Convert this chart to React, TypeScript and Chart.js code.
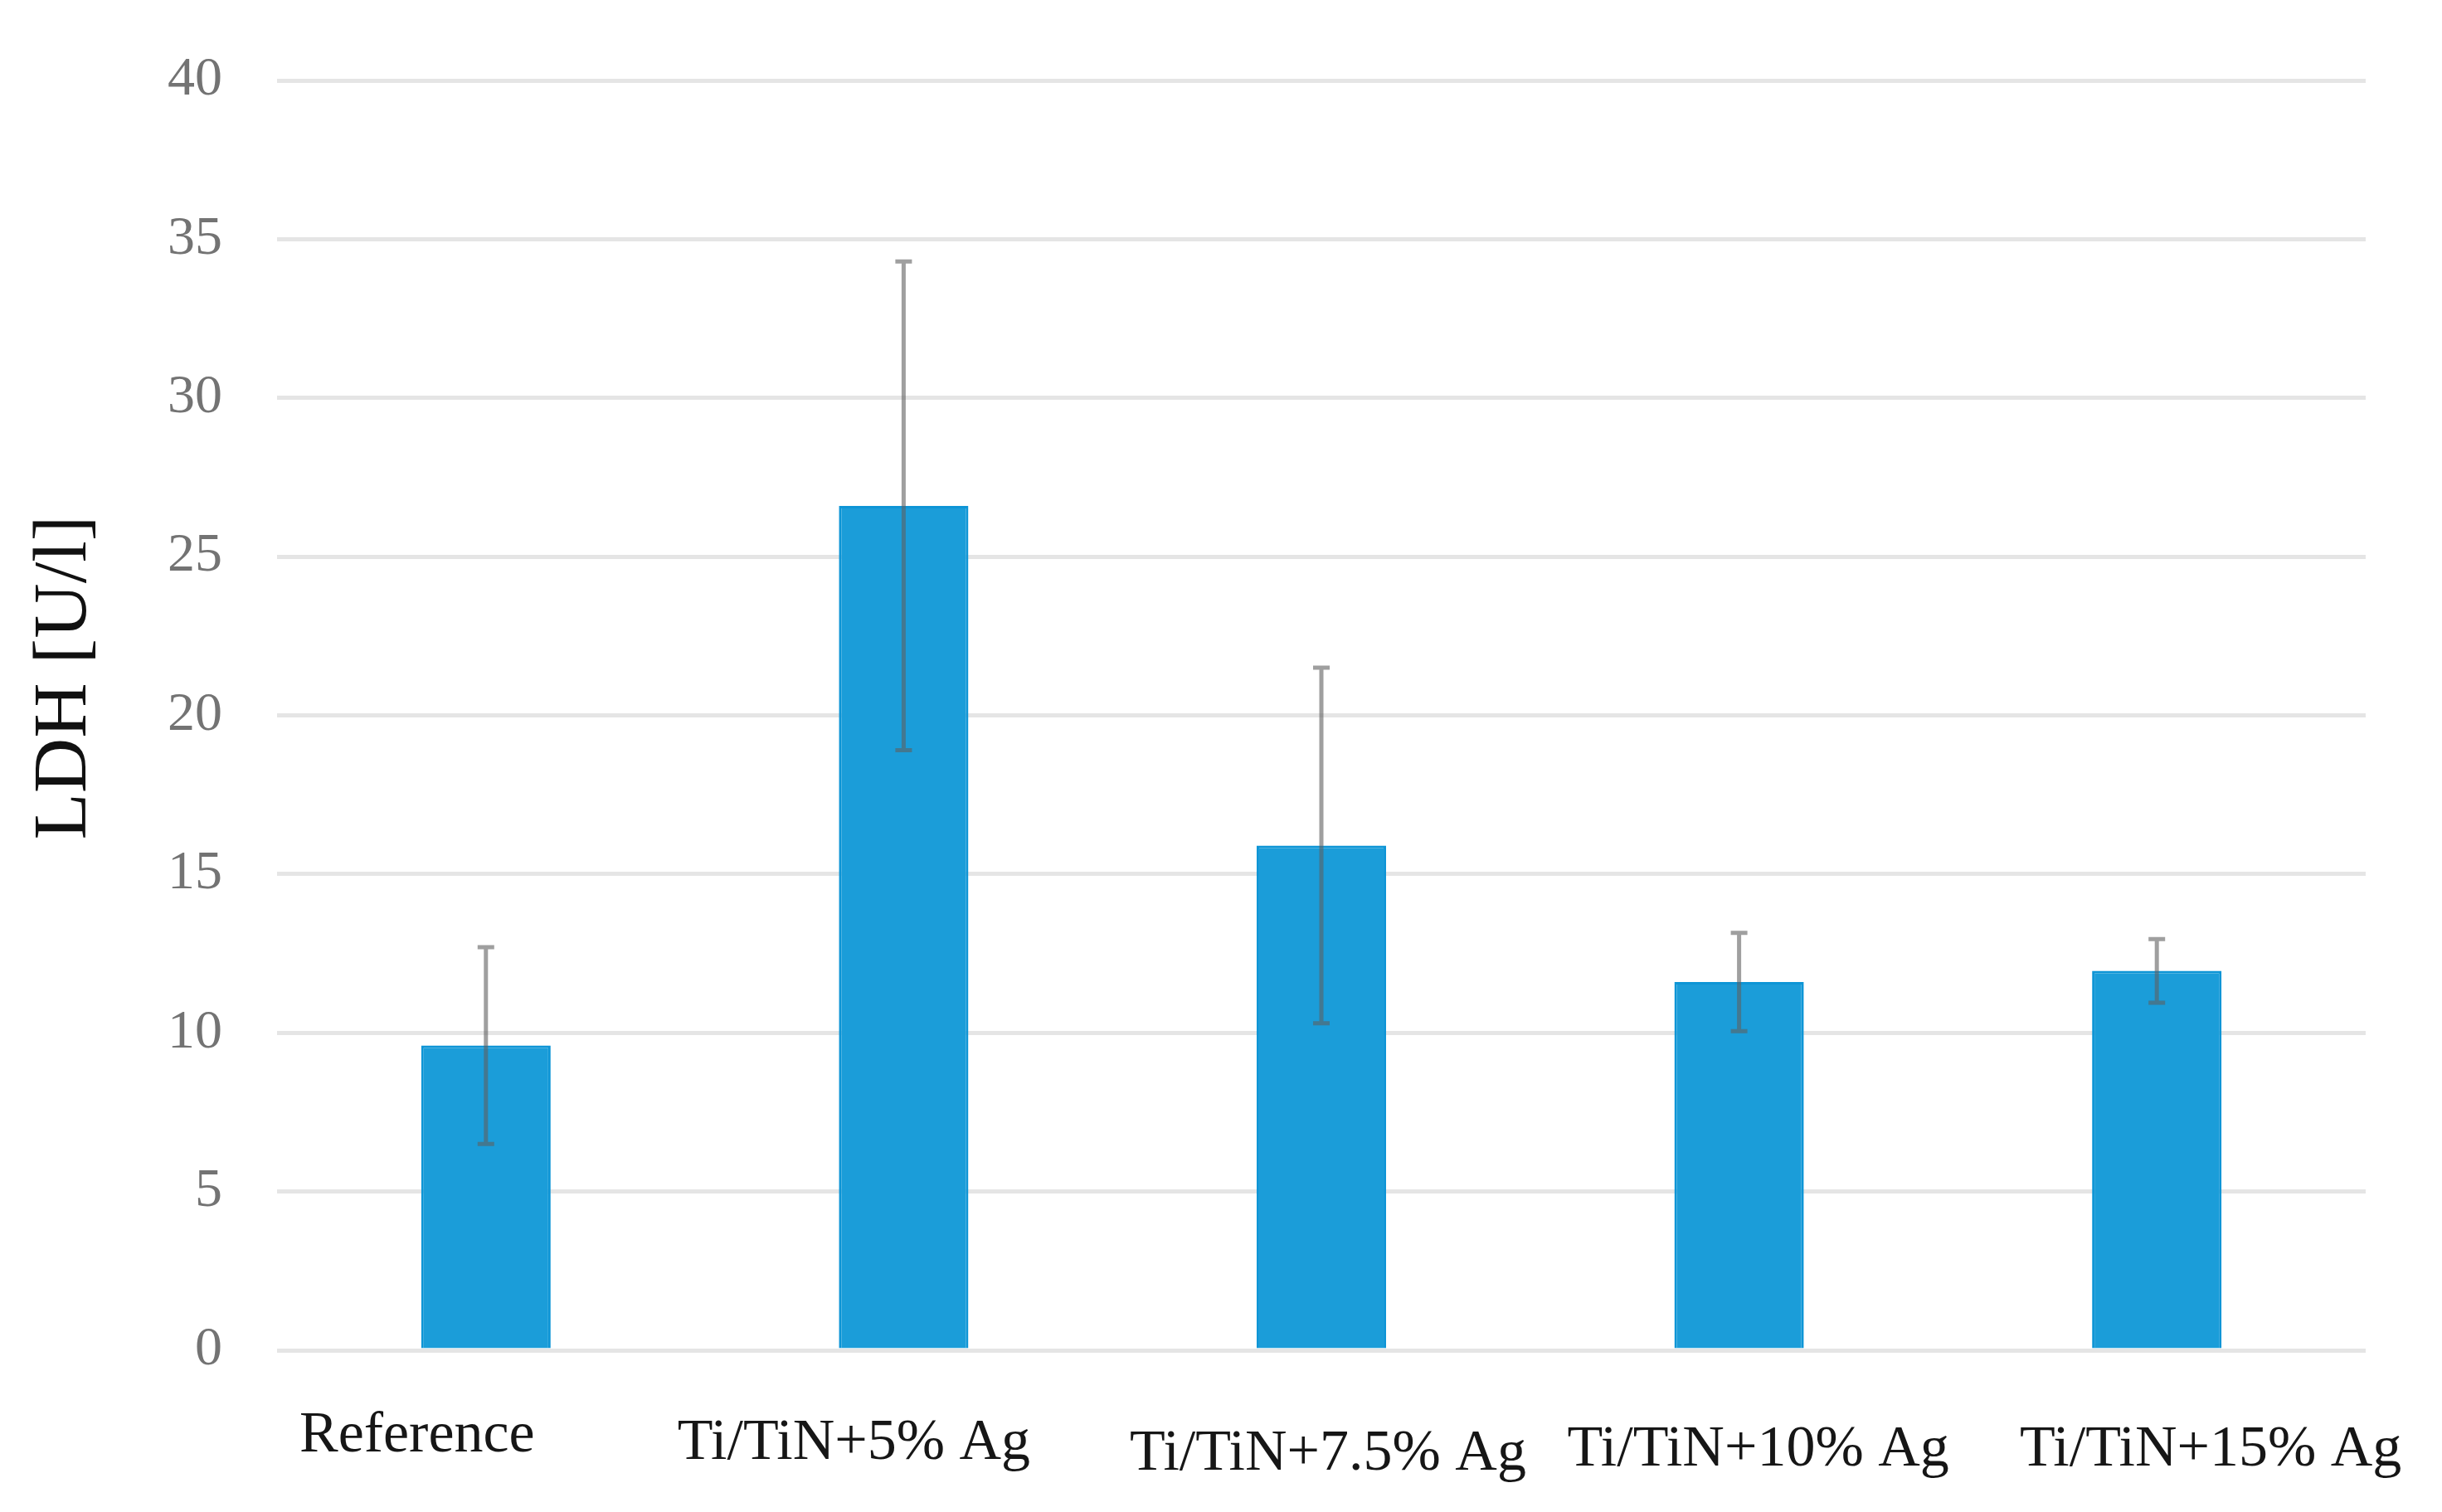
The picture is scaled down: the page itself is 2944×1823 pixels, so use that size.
import React, { useEffect, useRef } from "react";
import { Chart, registerables } from "chart.js";

Chart.register(...registerables);

const categories = ["Reference", "Ti/TiN+5% Ag", "Ti/TiN+7.5% Ag", "Ti/TiN+10% Ag", "Ti/TiN+15% Ag"];
const ldhValues = [9.6, 26.6, 15.9, 11.6, 11.95];
const ldhErrors = [3.1, 7.7, 5.6, 1.55, 1.0];
const yTicks = [0, 5, 10, 15, 20, 25, 30, 35, 40];
const yTitle = "LDH [U/l]";

// label placement tweaks (style, not data): horizontal shift and baseline
const labelDx = [-83, -60, 8, 23, 65];
const labelBaseline = [1750, 1759, 1772, 1767, 1767];

const W = 2944;
const H = 1823;

const errorBarPlugin = {
  id: "errorBars",
  afterDatasetsDraw(chart: any) {
    const meta = chart.getDatasetMeta(0);
    const yScale = chart.scales.y;
    const ctx = chart.ctx;
    ctx.save();
    ctx.strokeStyle = "rgba(95,95,95,0.6)";
    ctx.lineWidth = 5;
    meta.data.forEach((bar: any, i: number) => {
      const v = ldhValues[i];
      const e = ldhErrors[i];
      const x = bar.x;
      const yt = yScale.getPixelForValue(v + e);
      const yb = yScale.getPixelForValue(v - e);
      ctx.beginPath();
      ctx.moveTo(x, yt);
      ctx.lineTo(x, yb);
      ctx.moveTo(x - 10, yt);
      ctx.lineTo(x + 10, yt);
      ctx.moveTo(x - 10, yb);
      ctx.lineTo(x + 10, yb);
      ctx.stroke();
    });
    ctx.restore();
  },
};

const textPlugin = {
  id: "customText",
  afterDraw(chart: any) {
    const ctx = chart.ctx;
    const xScale = chart.scales.x;
    ctx.save();
    ctx.fillStyle = "#161616";
    ctx.font = "70px 'Liberation Serif'";
    ctx.textAlign = "center";
    ctx.textBaseline = "alphabetic";
    categories.forEach((c, i) => {
      ctx.fillText(c, xScale.getPixelForValue(i) + labelDx[i], labelBaseline[i]);
    });
    // y-axis title
    ctx.translate(79, 817);
    ctx.rotate(-Math.PI / 2);
    ctx.fillStyle = "#111111";
    ctx.font = "92px 'Liberation Serif'";
    ctx.textBaseline = "middle";
    ctx.fillText(yTitle, 0, 0);
    ctx.restore();
  },
};

export default function App() {
  const ref = useRef<HTMLCanvasElement | null>(null);
  useEffect(() => {
    if (!ref.current) return;
    const chart = new Chart(ref.current, {
      type: "bar",
      data: {
        labels: categories,
        datasets: [
          {
            data: ldhValues,
            backgroundColor: "#1B9DD9",
            borderColor: "#0E95D6",
            borderWidth: 3,
            barPercentage: 0.31,
            categoryPercentage: 1,
          },
        ],
      },
      options: {
        responsive: false,
        animation: false,
        devicePixelRatio: 1,
        layout: { padding: { left: 0, top: 97, right: 92, bottom: 0 } },
        plugins: { legend: { display: false }, tooltip: { enabled: false } },
        scales: {
          x: {
            grid: { display: false, drawTicks: false },
            border: { display: false },
            ticks: { display: false },
            afterFit(scale: any) {
              scale.height = 195;
              scale.paddingLeft = 0;
              scale.paddingRight = 0;
            },
          },
          y: {
            min: 0,
            max: 40,
            afterBuildTicks(scale: any) {
              scale.ticks = yTicks.map((v) => ({ value: v }));
            },
            grid: { color: "#E5E5E5", lineWidth: 5, drawTicks: false },
            border: { display: false },
            ticks: {
              color: "#737373",
              font: { family: "Liberation Serif", size: 66 },
              padding: 66,
            },
            afterFit(scale: any) {
              scale.width = 334;
              scale.paddingTop = 0;
              scale.paddingBottom = 0;
            },
          },
        },
      },
      plugins: [errorBarPlugin, textPlugin],
    });
    return () => chart.destroy();
  }, []);
  return (
    <div style={{ position: "absolute", left: 0, top: 0, width: W, height: H, background: "#ffffff" }}>
      <canvas ref={ref} width={W} height={H} style={{ width: W, height: H, display: "block" }} />
    </div>
  );
}
